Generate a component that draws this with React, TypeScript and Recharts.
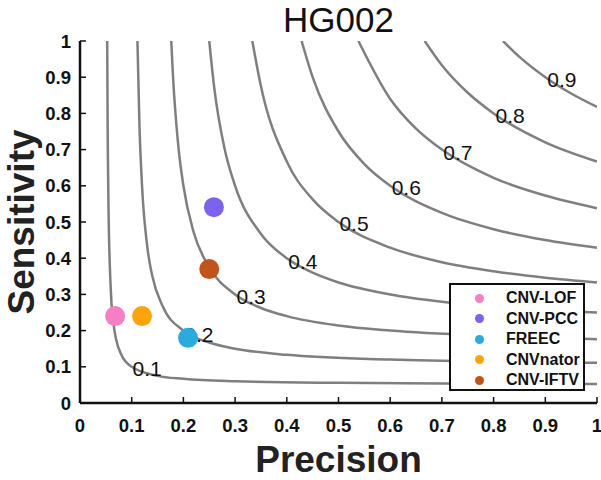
import {
  ComposedChart,
  Line,
  Scatter,
  XAxis,
  YAxis,
} from 'recharts';

const FONT = '"Liberation Sans", Arial, Helvetica, sans-serif';

const axisTicks = [0, 0.1, 0.2, 0.3, 0.4, 0.5, 0.6, 0.7, 0.8, 0.9, 1];

// iso-F curves, points as [precision, sensitivity]
const curves: Array<{ level: number; pts: Array<[number, number]> }> = [
  {
    level: 0.1,
    pts: [[0.0526, 1], [0.0535, 0.764], [0.054, 0.675], [0.055, 0.55], [0.06, 0.3], [0.065, 0.217], [0.07, 0.175], [0.08, 0.133], [0.1, 0.1], [0.15, 0.075], [0.2, 0.0667], [0.3, 0.06], [0.5, 0.0556], [0.7, 0.0538], [1, 0.0526]],
  },
  {
    level: 0.2,
    pts: [[0.1111, 1], [0.115, 0.767], [0.12, 0.6], [0.13, 0.433], [0.14, 0.35], [0.16, 0.267], [0.2, 0.2], [0.25, 0.167], [0.3, 0.15], [0.4, 0.133], [0.6, 0.12], [0.8, 0.114], [1, 0.111]],
  },
  {
    level: 0.3,
    pts: [[0.1765, 1], [0.18, 0.9], [0.19, 0.7125], [0.2, 0.6], [0.22, 0.471], [0.25, 0.375], [0.3, 0.3], [0.35, 0.2625], [0.4, 0.24], [0.5, 0.214], [0.6, 0.2], [0.8, 0.185], [1, 0.176]],
  },
  {
    level: 0.4,
    pts: [[0.25, 1], [0.26, 0.867], [0.28, 0.7], [0.3, 0.6], [0.35, 0.467], [0.4, 0.4], [0.45, 0.36], [0.5, 0.333], [0.6, 0.3], [0.7, 0.28], [0.8, 0.267], [1, 0.25]],
  },
  {
    level: 0.5,
    pts: [[0.3333, 1], [0.35, 0.875], [0.4, 0.667], [0.45, 0.5625], [0.5, 0.5], [0.6, 0.429], [0.7, 0.389], [0.8, 0.364], [0.9, 0.346], [1, 0.333]],
  },
  {
    level: 0.6,
    pts: [[0.4286, 1], [0.45, 0.9], [0.5, 0.75], [0.55, 0.66], [0.6, 0.6], [0.7, 0.525], [0.8, 0.48], [0.9, 0.45], [1, 0.4286]],
  },
  {
    level: 0.7,
    pts: [[0.5385, 1], [0.6, 0.84], [0.65, 0.758], [0.7, 0.7], [0.8, 0.622], [0.9, 0.573], [1, 0.538]],
  },
  {
    level: 0.8,
    pts: [[0.6667, 1], [0.7, 0.933], [0.75, 0.857], [0.8, 0.8], [0.9, 0.72], [1, 0.667]],
  },
  {
    level: 0.9,
    pts: [[0.8182, 1], [0.85, 0.956], [0.9, 0.9], [0.95, 0.855], [1, 0.818]],
  },
];

// where the contour labels sit
const curveLabels = [
  { p: 0.13, r: 0.094, text: '0.1' },
  { p: 0.23, r: 0.19, text: '0.2' },
  { p: 0.331, r: 0.293, text: '0.3' },
  { p: 0.431, r: 0.392, text: '0.4' },
  { p: 0.53, r: 0.497, text: '0.5' },
  { p: 0.631, r: 0.594, text: '0.6' },
  { p: 0.731, r: 0.693, text: '0.7' },
  { p: 0.832, r: 0.793, text: '0.8' },
  { p: 0.932, r: 0.895, text: '0.9' },
];

const tools = ['CNV-LOF', 'CNV-PCC', 'FREEC', 'CNVnator', 'CNV-IFTV'];
const precision = [0.068, 0.259, 0.209, 0.12, 0.25];
const sensitivity = [0.24, 0.541, 0.18, 0.24, 0.37];
const toolColors = ['#f47fc5', '#7b63ef', '#2aaadd', '#fca40d', '#c1541c'];

const W = 601;
const H = 480;

const axisStroke = { stroke: '#111', strokeWidth: 2.5 };
const tickStroke = { stroke: '#111', strokeWidth: 1.5 };

const fmt = (v: number) => (v === 0 || v === 1 ? String(v) : v.toFixed(1));

const renderTick = (axis: 'x' | 'y') => (props: any) => {
  const { x, y, payload } = props;
  return (
    <text
      x={x}
      y={y}
      textAnchor={axis === 'x' ? 'middle' : 'end'}
      dominantBaseline="central"
      fontFamily={FONT}
      fontSize={18.5}
      fontWeight="bold"
      fill="#111"
    >
      {fmt(payload.value)}
    </text>
  );
};

function ToolLegend() {
  return (
    <div
      style={{
        position: 'absolute',
        left: 449,
        top: 283,
        width: 136,
        height: 108,
        border: '2px solid #111',
        background: '#fff',
        boxSizing: 'border-box',
        paddingTop: 3,
        fontFamily: FONT,
      }}
    >
      {tools.map((name, i) => (
        <div key={name} style={{ display: 'flex', alignItems: 'center', height: 20.5 }}>
          <span
            style={{
              display: 'inline-block',
              width: 9,
              height: 9,
              borderRadius: '50%',
              background: toolColors[i],
              marginLeft: 24,
              marginRight: 22,
            }}
          />
          <span style={{ fontWeight: 'bold', fontSize: 16, color: '#111' }}>{name}</span>
        </div>
      ))}
    </div>
  );
}

export default function App() {
  return (
    <div style={{ position: 'absolute', left: 0, top: 0, width: W, height: H, background: '#fff' }}>
      <ComposedChart
        width={W}
        height={H}
        margin={{ top: 41, right: 4, bottom: 0, left: 0 }}
        style={{ position: 'absolute', left: 0, top: 0 }}
      >
        <XAxis
          type="number"
          dataKey="p"
          domain={[0, 1]}
          ticks={axisTicks}
          allowDataOverflow
          height={77}
          tickSize={-6}
          tickMargin={28}
          tick={renderTick('x')}
          axisLine={axisStroke}
          tickLine={tickStroke}
        />
        <XAxis
          xAxisId="top"
          orientation="top"
          type="number"
          domain={[0, 1]}
          ticks={axisTicks}
          height={0}
          tickSize={-6}
          tickFormatter={() => ''}
          axisLine={axisStroke}
          tickLine={tickStroke}
        />
        <YAxis
          type="number"
          dataKey="r"
          domain={[0, 1]}
          ticks={axisTicks}
          allowDataOverflow
          width={80}
          tickSize={-6}
          tickMargin={15}
          tick={renderTick('y')}
          axisLine={axisStroke}
          tickLine={tickStroke}
        />
        <YAxis
          yAxisId="right"
          orientation="right"
          type="number"
          domain={[0, 1]}
          ticks={axisTicks}
          width={0}
          tickSize={-6}
          tickFormatter={() => ''}
          axisLine={axisStroke}
          tickLine={tickStroke}
        />
        {curves.map((c) => (
          <Line
            key={c.level}
            data={c.pts.map(([p, r]) => ({ p, r }))}
            dataKey="r"
            type="monotone"
            stroke="#7f7f7f"
            strokeWidth={2.5}
            dot={false}
            activeDot={false}
            isAnimationActive={false}
          />
        ))}
        <Scatter
          data={curveLabels}
          dataKey="r"
          isAnimationActive={false}
          shape={(props: any) => (
            <text
              x={props.cx}
              y={props.cy}
              textAnchor="middle"
              dominantBaseline="central"
              fontFamily={FONT}
              fontSize={21}
              fill="#111"
            >
              {props.payload.text}
            </text>
          )}
        />
        {tools.map((name, i) => (
          <Scatter
            key={name}
            name={name}
            data={[{ p: precision[i], r: sensitivity[i] }]}
            dataKey="r"
            fill={toolColors[i]}
            isAnimationActive={false}
            shape={(props: any) => (
              <circle cx={props.cx} cy={props.cy} r={10} fill={toolColors[i]} />
            )}
          />
        ))}
      </ComposedChart>
      <ToolLegend />
      <svg
        width={W}
        height={H}
        style={{ position: 'absolute', left: 0, top: 0, pointerEvents: 'none' }}
      >
        <text x={338.5} y={32} textAnchor="middle" fontFamily={FONT} fontSize={35} fill="#111">
          HG002
        </text>
        <text
          x={338.5}
          y={472}
          textAnchor="middle"
          fontFamily={FONT}
          fontSize={37}
          fontWeight="bold"
          fill="#222"
        >
          Precision
        </text>
        <text
          transform="translate(34, 222) rotate(-90)"
          textAnchor="middle"
          fontFamily={FONT}
          fontSize={37}
          fontWeight="bold"
          fill="#222"
        >
          Sensitivity
        </text>
      </svg>
    </div>
  );
}
